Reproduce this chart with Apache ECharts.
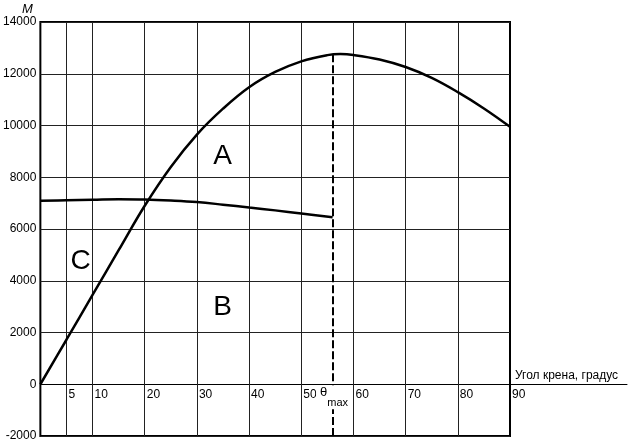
<!DOCTYPE html>
<html><head><meta charset="utf-8">
<script src="https://cdn.jsdelivr.net/npm/echarts@6/dist/echarts.min.js"></script>
<style>html,body{margin:0;padding:0;background:#fff}#c{width:630px;height:443px}</style>
</head><body><div id="c"></div>
<script>
// ---- data ----
const xTickLabels = [5, 10, 20, 30, 40, 50, 60, 70, 80, 90];
const vGridLines = [5, 10, 20, 30, 40, 50, 60, 70, 80];
const curveAx = [0, 5, 10, 15, 20, 25, 30, 35, 40, 45, 50, 55, 57.5, 60, 65, 70, 75, 80, 85, 90];
const curveAy = [0, 1720, 3450, 5180, 6900, 8400, 9650, 10650, 11480, 12070, 12480, 12720, 12760, 12725, 12550, 12260, 11840, 11290, 10660, 9950];
const curveBx = [0, 5, 10, 15, 20, 25, 30, 35, 40, 45, 50, 56];
const curveBy = [7090, 7110, 7130, 7150, 7140, 7100, 7040, 6940, 6830, 6720, 6600, 6450];
const thetaMax = 56;
const thetaPeak = 12750;
const regionLabels = ['A', 'B', 'C'];
const regionX = [34.9, 34.9, 7.7];
const regionY = [8800, 2980, 4750];
const yMin = -2000, yMax = 14000, yStep = 2000;
const xMin = 0, xMax = 90;
const yName = 'M';
const xName = 'Угол крена, градус';

const FONT = "'Liberation Sans', Arial, Helvetica, sans-serif";
const GRID_TOP = 22, GRID_BOTTOM = 7, H = 443;
const gridH = H - GRID_TOP - GRID_BOTTOM;
const zeroOffset = -gridH * (0 - yMin) / (yMax - yMin);
const chart = echarts.init(document.getElementById('c'), null, {renderer: 'canvas'});

const zip = (xs, ys) => xs.map((x, i) => [x, ys[i]]);

chart.setOption({
  animation: false,
  backgroundColor: '#fff',
  textStyle: {fontFamily: FONT, color: '#000'},
  grid: [
    {left: 40, right: 120, top: GRID_TOP, bottom: GRID_BOTTOM, show: true, borderColor: '#000', borderWidth: 2, containLabel: false},
    {left: 510, right: 3, top: GRID_TOP, bottom: GRID_BOTTOM, show: false}
  ],
  xAxis: [
    {
      gridIndex: 0, type: 'value', min: xMin, max: xMax, interval: 5,
      position: 'bottom', offset: zeroOffset,
      axisLine: {show: true, onZero: false, lineStyle: {color: '#000', width: 1}},
      axisTick: {show: false},
      splitLine: {show: false},
      axisLabel: {
        show: true, color: '#000', fontFamily: FONT, fontSize: 12, margin: 4,
        align: 'left', padding: [0, 0, 0, 2],
        showMinLabel: true, showMaxLabel: true, hideOverlap: false,
        formatter: v => xTickLabels.includes(v) ? String(v) : ''
      },
      name: xName, nameLocation: 'end', nameGap: 5,
      nameTextStyle: {color: '#000', fontFamily: FONT, fontSize: 12, align: 'left', verticalAlign: 'bottom', padding: [0, 0, 3, 0]}
    },
    {
      gridIndex: 1, type: 'value', min: 0, max: 1,
      axisLine: {show: true, onZero: true, lineStyle: {color: '#000', width: 1}},
      axisTick: {show: false}, axisLabel: {show: false}, splitLine: {show: false}
    }
  ],
  yAxis: [
    {
      gridIndex: 0, type: 'value', min: yMin, max: yMax, interval: yStep,
      axisLine: {show: false, onZero: false},
      axisTick: {show: false},
      splitLine: {show: true, lineStyle: {color: '#222', width: 1}},
      axisLabel: {color: '#000', fontFamily: FONT, fontSize: 12, margin: 4, formatter: v => String(v)},
      name: yName, nameLocation: 'end', nameGap: 6,
      nameTextStyle: {color: '#000', fontFamily: FONT, fontSize: 13, fontStyle: 'italic', align: 'center', padding: [0, 26, 0, 0]}
    },
    {
      gridIndex: 1, type: 'value', min: yMin, max: yMax, show: false
    }
  ],
  series: [
    {
      type: 'line', xAxisIndex: 0, yAxisIndex: 0, z: 3,
      data: zip(curveAx, curveAy), smooth: 0.4, showSymbol: false, silent: true,
      lineStyle: {color: '#000', width: 2.5},
      markLine: {
        silent: true, z: 1, symbol: ['none', 'none'], animation: false,
        lineStyle: {color: '#222', width: 1, type: 'solid'},
        label: {show: false},
        data: vGridLines.map(v => ({xAxis: v}))
      }
    },
    {
      type: 'line', xAxisIndex: 0, yAxisIndex: 0, z: 3,
      data: zip(curveBx, curveBy), smooth: 0.4, showSymbol: false, silent: true,
      lineStyle: {color: '#000', width: 2.5},
      markLine: {
        silent: true, z: 4, symbol: ['none', 'none'], animation: false,
        lineStyle: {color: '#000', width: 2, type: [8, 3]},
        data: [
          [{coord: [thetaMax, yMin], label: {show: false}}, {coord: [thetaMax, 0]}],
          [{coord: [thetaMax, thetaPeak],
            label: {
              show: true, position: 'end', distance: 1,
              formatter: '{a|θ}{b|max}',
              backgroundColor: '#fff', padding: [1, 1, 1, 4],
              rich: {
                a: {fontFamily: FONT, fontSize: 13, color: '#000', lineHeight: 14, verticalAlign: 'top'},
                b: {fontFamily: FONT, fontSize: 11, color: '#000', lineHeight: 22, verticalAlign: 'bottom'}
              }
            }},
           {coord: [thetaMax, 0]}]
        ]
      }
    },
    {
      type: 'scatter', xAxisIndex: 0, yAxisIndex: 0, z: 5, silent: true,
      symbolSize: 0,
      data: regionLabels.map((t, i) => ({value: [regionX[i], regionY[i]], name: t})),
      label: {show: true, position: 'inside', formatter: p => p.name, color: '#000', opacity: 1, fontFamily: FONT, fontSize: 28}
    }
  ]
});
</script></body></html>
